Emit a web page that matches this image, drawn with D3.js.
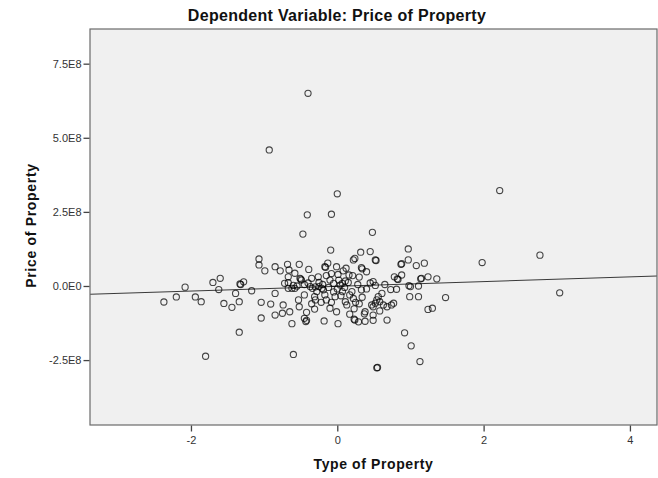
<!DOCTYPE html>
<html>
<head>
<meta charset="utf-8">
<script src="https://cdn.jsdelivr.net/npm/d3@7/dist/d3.min.js"></script>
<style>
  html, body { margin: 0; padding: 0; background: #ffffff; }
  svg { display: block; font-family: "Liberation Sans", Arial, sans-serif; }
</style>
</head>
<body>
<svg id="chart" width="658" height="478"></svg>
<script>
// Partial regression plot: residual Type of Property vs residual Price of Property
const titleText = "Dependent Variable: Price of Property";
const xTitle = "Type of Property";
const yTitle = "Price of Property";

// Axis ticks
const xTicks = [-2, 0, 2, 4];
const xTickLabels = ["-2", "0", "2", "4"];
const yTicks = [-2.5e8, 0, 2.5e8, 5.0e8, 7.5e8];
const yTickLabels = ["-2.5E8", "0.0E0", "2.5E8", "5.0E8", "7.5E8"];

// Axis extents
const xDomain = [-3.38, 4.37];
const yDomain = [-4.69e8, 8.67e8];

// Fit line (price = intercept + slope * type)
const fitIntercept = -0.011e8;
const fitSlope = 0.0796e8;

// Observations: type residual and price residual (price in units of 1E8)
const typeResid = [
  -0.40, -0.93, 0.00, 2.22, -0.41, -0.08, -0.47, 0.48, -0.09, 0.97, 2.77, 1.98, 3.04,
  -2.37, -2.20, -2.08, -1.94, -1.86, -1.70, -1.60, -1.62, -1.55, -1.44, -1.39, -1.34,
  -1.33, -1.32, -1.28, -1.17, -1.34, -1.80, -1.07, -1.07, -1.04, -1.04, -0.99, -0.91,
  -0.85, -0.85, -0.85, -0.78, -0.75, -0.74, -0.72, -0.68, -0.67, -0.67, -0.67, -0.66,
  -0.65, -0.62, -0.62, -0.60, -0.58, -0.58, -0.53, -0.52, -0.52, -0.51, -0.49, -0.50,
  -0.45, -0.45, -0.43, -0.42, -0.42, -0.39, -0.37, -0.35, -0.34, -0.31, -0.31, -0.30,
  -0.30, -0.28, -0.26, -0.25, -0.21, -0.19, -0.18, -0.17, -0.16, -0.17, -0.15, -0.15,
  -0.13, -0.10, -0.10, -0.08, -0.05, -0.03, -0.01, -0.01, 0.01, 0.01, 0.04, 0.05,
  0.07, 0.07, 0.08, 0.11, 0.11, 0.12, 0.13, 0.15, 0.16, 0.17, 0.17, 0.20, 0.21,
  0.22, 0.22, 0.23, 0.23, 0.24, 0.24, 0.29, 0.32, 0.33, 0.33, 0.34, 0.34, 0.37,
  0.38, 0.38, 0.40, 0.45, 0.45, 0.47, 0.49, 0.49, 0.49, 0.49, 0.52, 0.53, 0.52,
  0.52, 0.54, 0.54, 0.55, 0.56, 0.58, 0.58, 0.61, 0.63, 0.68, 0.68, 0.73, 0.74,
  0.77, 0.78, 0.82, 0.83, 0.81, 0.87, 0.88, 0.88, 0.92, 0.97, 0.98, 1.00, 0.99,
  1.01, 1.08, 1.11, 1.11, 1.13, 1.14, 1.15, 1.19, 1.24, 1.24, 1.30, 1.36, 1.48,
  -0.20, -0.12, -0.05, 0.00, -0.25, -0.40, -0.45, 0.10, 0.28, 0.25, 0.30, 0.40,
  -0.22, -0.35, 0.02, -0.08, 0.30, -0.60, -0.55, 0.65
];
const priceE8 = [
  6.50, 4.59, 3.11, 3.22, 2.40, 2.42, 1.75, 1.81, 1.21, 1.25, 1.04, 0.79, -0.23,
  -0.54, -0.37, -0.04, -0.37, -0.53, 0.12, 0.26, -0.12, -0.59, -0.72, -0.25, -0.53,
  0.07, 0.05, 0.14, -0.16, -1.56, -2.37, 0.91, 0.71, -0.55, -1.08, 0.51, -0.61,
  0.65, -0.25, -0.98, 0.51, -0.92, -0.64, 0.09, 0.73, 0.31, 0.11, -0.08, 0.54,
  -0.87, -1.27, -0.08, -2.31, 0.43, -0.08, -0.47, 0.73, -0.70, 0.26, 0.20, 0.23,
  -0.30, -1.09, -1.20, -1.16, -0.89, 0.56, -0.02, 0.26, -0.08, -0.78, -0.36, -0.47,
  -0.03, -0.19, 0.31, -0.02, -0.08, -0.13, -1.18, 0.65, 0.63, -0.30, 0.35, -0.47,
  0.77, 0.20, -0.75, -0.55, 0.09, -0.36, 0.65, -0.87, 0.39, -1.27, 0.03, -0.33,
  -0.19, 0.09, 0.51, 0.17, -0.53, 0.60, -0.64, 0.12, 0.37, -0.30, -0.95, -0.19, 0.35,
  0.88, -0.42, -0.77, -1.12, 0.93, -1.15, -1.21, 1.14, 0.62, -0.13, 0.58, -0.38, -0.94,
  -0.87, -1.19, 0.48, 1.16, 0.10, -0.64, 0.15, -0.98, -0.70, -1.16, 0.88, 0.86, 0.02,
  -0.58, -0.47, -2.76, -2.75, -0.36, -0.53, -0.84, -0.25, -0.64, -0.70, -1.15, -0.12, -0.64,
  -0.58, 0.31, 0.24, 0.22, -0.11, 0.73, 0.75, 0.37, -1.58, 0.88, 0.01, -0.02, -0.36,
  -2.02, 0.69, 0.00, -0.36, -2.55, 0.24, 0.26, 0.77, 0.31, -0.79, -0.75, 0.24, -0.39,
  0.05, -0.05, -0.20, -0.10, 0.12, 0.10, 0.05, -0.05, 0.05, -0.55, -0.60, -0.10,
  -0.55, -0.60, 0.20, 0.42, 0.30, 0.02, 0.00, 0.05
];
const PRICE_UNIT = 1e8;

const points = typeResid.map((t, i) => ({ x: t, y: priceE8[i] * PRICE_UNIT }));

const svg = d3.select("#chart");
const plot = { left: 90, top: 29, right: 657, bottom: 425 };

const x = d3.scaleLinear().domain(xDomain).range([plot.left, plot.right]);
const y = d3.scaleLinear().domain(yDomain).range([plot.bottom, plot.top]);

// Plot background
svg.append("rect")
  .attr("x", plot.left).attr("y", plot.top)
  .attr("width", plot.right - plot.left).attr("height", plot.bottom - plot.top)
  .attr("fill", "#f0f0f0");

svg.append("clipPath").attr("id", "plotClip")
  .append("rect")
  .attr("x", plot.left).attr("y", plot.top)
  .attr("width", plot.right - plot.left).attr("height", plot.bottom - plot.top);

// Fit line
const fitY = v => fitIntercept + fitSlope * v;
svg.append("line")
  .attr("clip-path", "url(#plotClip)")
  .attr("x1", x(xDomain[0])).attr("y1", y(fitY(xDomain[0])))
  .attr("x2", x(xDomain[1])).attr("y2", y(fitY(xDomain[1])))
  .attr("stroke", "#3a3a3a").attr("stroke-width", 1.1);

// Points
svg.append("g").attr("clip-path", "url(#plotClip)")
  .selectAll("circle").data(points).join("circle")
  .attr("cx", d => x(d.x)).attr("cy", d => y(d.y))
  .attr("r", 3.1)
  .attr("fill", "none")
  .attr("stroke", "#000")
  .attr("stroke-opacity", 0.72)
  .attr("stroke-width", 1.1);

// Frame
svg.append("rect")
  .attr("x", plot.left).attr("y", plot.top)
  .attr("width", plot.right - plot.left).attr("height", plot.bottom - plot.top)
  .attr("fill", "none").attr("stroke", "#6a6a6a").attr("stroke-width", 1.2);

// Axes
const yAxis = d3.axisLeft(y)
  .tickValues(yTicks)
  .tickFormat((d, i) => yTickLabels[i])
  .tickSizeInner(6).tickSizeOuter(0).tickPadding(2);
const gy = svg.append("g").attr("transform", `translate(${plot.left - 0.5},0)`).call(yAxis);

const xAxis = d3.axisBottom(x)
  .tickValues(xTicks)
  .tickFormat((d, i) => xTickLabels[i])
  .tickSizeInner(6).tickSizeOuter(0).tickPadding(4.5);
const gx = svg.append("g").attr("transform", `translate(0,${plot.bottom + 0.5})`).call(xAxis);

[gx, gy].forEach(g => {
  g.select(".domain").remove();
  g.selectAll(".tick line").attr("stroke", "#444").attr("stroke-width", 1.3);
  g.selectAll(".tick text")
    .attr("fill", "#333")
    .style("font-size", "11px")
    .style("font-family", "'Liberation Sans', Arial, sans-serif");
});

// Titles
svg.append("text")
  .attr("x", 337).attr("y", 21)
  .attr("text-anchor", "middle")
  .style("font-size", "16px").style("font-weight", "bold")
  .style("letter-spacing", "0.3px")
  .attr("fill", "#111")
  .text(titleText);

svg.append("text")
  .attr("x", 373.5).attr("y", 468.5)
  .attr("text-anchor", "middle")
  .style("font-size", "14px").style("font-weight", "bold")
  .style("letter-spacing", "0.6px")
  .attr("fill", "#111")
  .text(xTitle);

svg.append("text")
  .attr("transform", "translate(35.5,225.5) rotate(-90)")
  .attr("text-anchor", "middle")
  .style("font-size", "14px").style("font-weight", "bold")
  .style("letter-spacing", "0.7px")
  .attr("fill", "#111")
  .text(yTitle);
</script>
</body>
</html>
